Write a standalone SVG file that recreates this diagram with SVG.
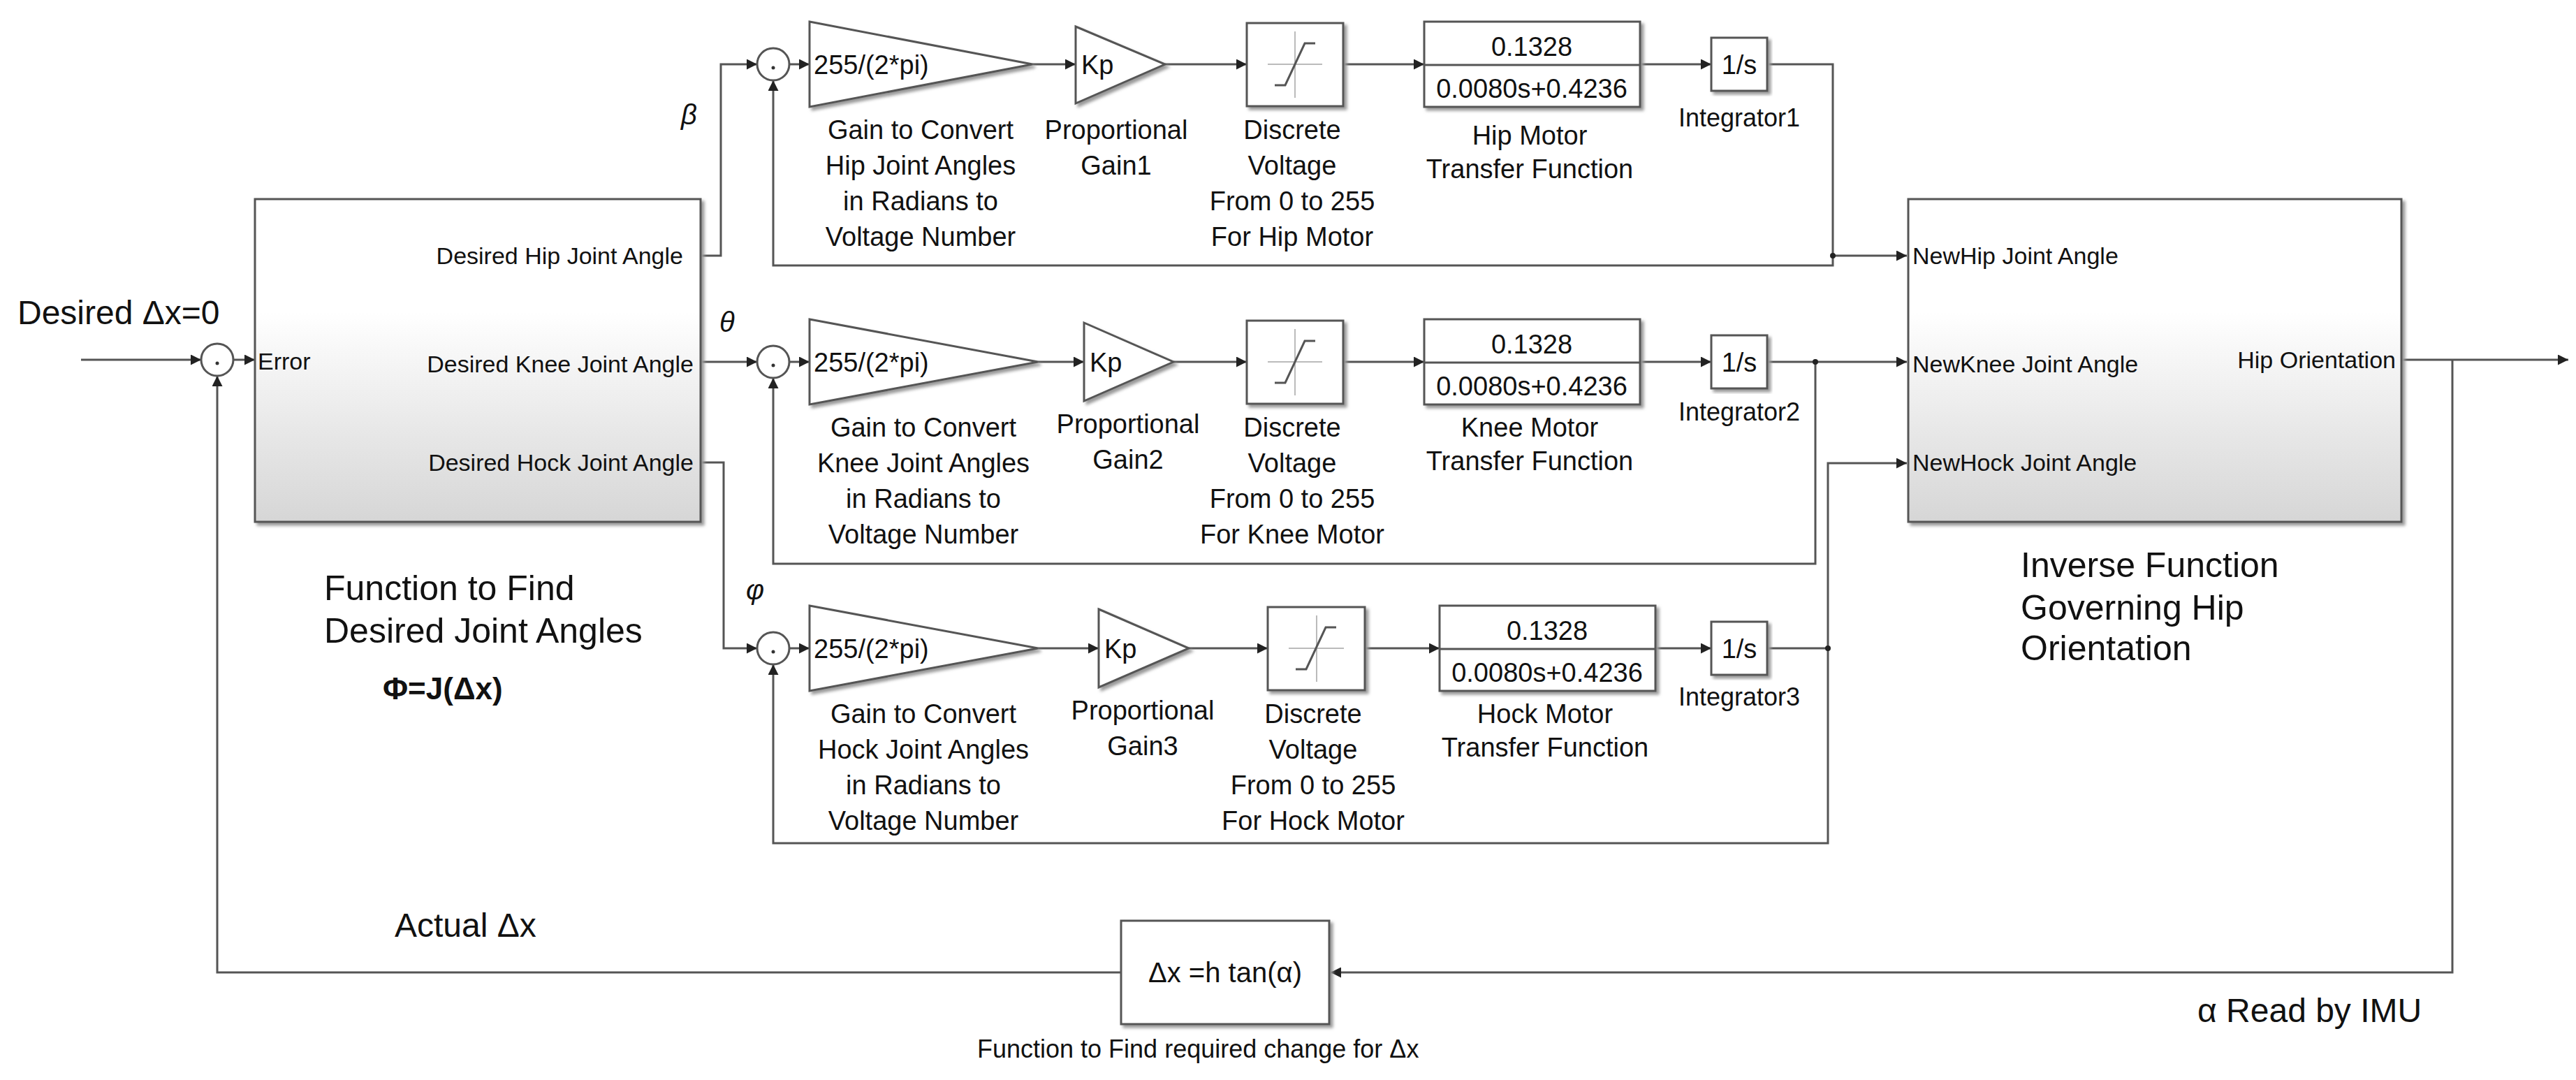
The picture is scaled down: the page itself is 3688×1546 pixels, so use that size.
<svg xmlns="http://www.w3.org/2000/svg" width="3688" height="1546" viewBox="0 0 3688 1546">
<style>
text{font-family:"Liberation Sans",Arial,sans-serif;fill:#111}
.l{font-size:38px;text-anchor:middle}
.p{font-size:34px}
.b{fill:#fff;stroke:#555;stroke-width:3}
.w{fill:none;stroke:#555;stroke-width:3}
.big{font-size:50px}
</style>
<defs>
<marker id="a" viewBox="0 0 10 10" refX="10" refY="5" markerWidth="5" markerHeight="5" orient="auto"><path d="M0,0L10,5L0,10z" fill="#222"/></marker>
<linearGradient id="g" x1="0" y1="0" x2="0" y2="1"><stop offset="0.35" stop-color="#fff"/><stop offset="1" stop-color="#d6d6d6"/></linearGradient>
<filter id="s"><feDropShadow dx="4" dy="4" stdDeviation="2" flood-color="#999"/></filter>
</defs>
<rect width="3688" height="1546" fill="#fff"/>

<g id="connectors" class="w">
<path d="M116,515H288" marker-end="url(#a)"/>
<path d="M334,515H365" marker-end="url(#a)"/>
<path d="M1003,366H1032V92H1084" marker-end="url(#a)"/>
<path d="M1003,518H1084" marker-end="url(#a)"/>
<path d="M1003,662H1036V928H1084" marker-end="url(#a)"/>
<path d="M1130,92H1159" marker-end="url(#a)"/>
<path d="M1130,518H1159" marker-end="url(#a)"/>
<path d="M1130,928H1159" marker-end="url(#a)"/>
<path d="M1478,92H1540" marker-end="url(#a)"/>
<path d="M1486,518H1552" marker-end="url(#a)"/>
<path d="M1486,928H1573" marker-end="url(#a)"/>
<path d="M1668,92H1785" marker-end="url(#a)"/>
<path d="M1680,518H1785" marker-end="url(#a)"/>
<path d="M1702,928H1815" marker-end="url(#a)"/>
<path d="M1923,92H2039" marker-end="url(#a)"/>
<path d="M1923,518H2039" marker-end="url(#a)"/>
<path d="M1954,928H2061" marker-end="url(#a)"/>
<path d="M2348,92H2450" marker-end="url(#a)"/>
<path d="M2348,518H2450" marker-end="url(#a)"/>
<path d="M2370,928H2450" marker-end="url(#a)"/>
<path d="M2530,92H2624V380H1107V541" marker-end="url(#a)" transform="translate(0,-426)" opacity="0"/>
<path d="M2530,92H2624V380H1107V115" marker-end="url(#a)"/>
<path d="M2624,366H2730" marker-end="url(#a)"/>
<path d="M2530,518H2730" marker-end="url(#a)"/>
<path d="M2599,518V807H1107V541" marker-end="url(#a)"/>
<path d="M2530,928H2617V1207H1107V951" marker-end="url(#a)"/>
<path d="M2617,928V663H2730" marker-end="url(#a)"/>
<path d="M3438,515H3677" marker-end="url(#a)"/>
<path d="M3511,515V1392H1905" marker-end="url(#a)"/>
<path d="M1605,1392H311V538" marker-end="url(#a)"/>
</g>
<g fill="#222">
<circle cx="2624" cy="366" r="4"/><circle cx="2599" cy="518" r="4"/><circle cx="2617" cy="928" r="4"/>
</g>

<g id="input"><text x="25" y="464" style="font-size:48px">Desired Δx=0</text></g>
<g id="sum1"><circle cx="311" cy="515" r="23" class="b"/><circle cx="311" cy="520" r="2.5" fill="#333"/></g>
<g id="sum2"><circle cx="1107" cy="518" r="23" class="b"/><circle cx="1107" cy="523" r="2.5" fill="#333"/></g>
<g id="sum3"><circle cx="1107" cy="928" r="23" class="b"/><circle cx="1107" cy="933" r="2.5" fill="#333"/></g>
<g id="sum0"><circle cx="1107" cy="92" r="23" class="b"/><circle cx="1107" cy="97" r="2.5" fill="#333"/></g>

<g id="jfunc">
<rect x="365" y="285" width="638" height="462" fill="url(#g)" stroke="#555" stroke-width="3" filter="url(#s)"/>
<text x="369" y="529" class="p">Error</text>
<text x="978" y="378" class="p" text-anchor="end">Desired Hip Joint Angle</text>
<text x="993" y="533" class="p" text-anchor="end">Desired Knee  Joint Angle</text>
<text x="993" y="674" class="p" text-anchor="end">Desired Hock Joint Angle</text>
<text x="464" y="859" class="big">Function to Find</text>
<text x="464" y="920" class="big">Desired Joint Angles</text>
<text x="548" y="1001" style="font-size:44px;font-weight:bold">Φ=J(Δx)</text>
</g>
<g id="greek" style="font-size:40px;font-style:italic">
<text x="975" y="178">β</text><text x="1030" y="475">θ</text><text x="1068" y="858">φ</text>
</g>

<g id="row1">
<path d="M1159,31L1478,92L1159,153Z" class="b" filter="url(#s)"/>
<text x="1165" y="106" style="font-size:38px">255/(2*pi)</text>
<text class="l" x="1318" y="199">Gain to Convert</text><text class="l" x="1318" y="250">Hip Joint Angles</text><text class="l" x="1318" y="301">in Radians to</text><text class="l" x="1318" y="352">Voltage Number</text>
<path d="M1540,38L1668,92L1540,148Z" class="b" filter="url(#s)"/>
<text x="1548" y="106" style="font-size:38px">Kp</text>
<text class="l" x="1598" y="199">Proportional</text><text class="l" x="1598" y="250">Gain1</text>
<rect x="1785" y="33" width="138" height="119" class="b" filter="url(#s)"/>
<path d="M1815,92H1893M1854,45V140" stroke="#bbb" stroke-width="2"/><path d="M1825,122H1840L1868,62H1883" class="w"/>
<text class="l" x="1850" y="199">Discrete</text><text class="l" x="1850" y="250">Voltage</text><text class="l" x="1850" y="301">From 0 to 255</text><text class="l" x="1850" y="352">For Hip Motor</text>
<rect x="2039" y="31" width="309" height="122" class="b" filter="url(#s)"/>
<path d="M2039,93H2348" class="w"/>
<text class="l" x="2193" y="80">0.1328</text><text class="l" x="2193" y="140">0.0080s+0.4236</text>
<text class="l" x="2190" y="207">Hip Motor</text><text class="l" x="2190" y="255">Transfer Function</text>
<rect x="2450" y="54" width="80" height="76" class="b" filter="url(#s)"/>
<text class="l" x="2490" y="106">1/s</text>
<text class="l" x="2490" y="181" style="font-size:36px">Integrator1</text>
</g>

<g id="row2">
<path d="M1159,457L1486,518L1159,579Z" class="b" filter="url(#s)"/>
<text x="1165" y="532" style="font-size:38px">255/(2*pi)</text>
<text class="l" x="1322" y="625">Gain to Convert</text><text class="l" x="1322" y="676">Knee Joint Angles</text><text class="l" x="1322" y="727">in Radians to</text><text class="l" x="1322" y="778">Voltage Number</text>
<path d="M1552,462L1680,518L1552,574Z" class="b" filter="url(#s)"/>
<text x="1560" y="532" style="font-size:38px">Kp</text>
<text class="l" x="1615" y="620">Proportional</text><text class="l" x="1615" y="671">Gain2</text>
<rect x="1785" y="459" width="138" height="119" class="b" filter="url(#s)"/>
<path d="M1815,518H1893M1854,471V566" stroke="#bbb" stroke-width="2"/><path d="M1825,548H1840L1868,488H1883" class="w"/>
<text class="l" x="1850" y="625">Discrete</text><text class="l" x="1850" y="676">Voltage</text><text class="l" x="1850" y="727">From 0 to 255</text><text class="l" x="1850" y="778">For Knee Motor</text>
<rect x="2039" y="457" width="309" height="122" class="b" filter="url(#s)"/>
<path d="M2039,519H2348" class="w"/>
<text class="l" x="2193" y="506">0.1328</text><text class="l" x="2193" y="566">0.0080s+0.4236</text>
<text class="l" x="2190" y="625">Knee Motor</text><text class="l" x="2190" y="673">Transfer Function</text>
<rect x="2450" y="480" width="80" height="76" class="b" filter="url(#s)"/>
<text class="l" x="2490" y="532">1/s</text>
<text class="l" x="2490" y="602" style="font-size:36px">Integrator2</text>
</g>

<g id="row3">
<path d="M1159,867L1486,928L1159,989Z" class="b" filter="url(#s)"/>
<text x="1165" y="942" style="font-size:38px">255/(2*pi)</text>
<text class="l" x="1322" y="1035">Gain to Convert</text><text class="l" x="1322" y="1086">Hock Joint Angles</text><text class="l" x="1322" y="1137">in Radians to</text><text class="l" x="1322" y="1188">Voltage Number</text>
<path d="M1573,872L1702,928L1573,984Z" class="b" filter="url(#s)"/>
<text x="1581" y="942" style="font-size:38px">Kp</text>
<text class="l" x="1636" y="1030">Proportional</text><text class="l" x="1636" y="1081">Gain3</text>
<rect x="1815" y="869" width="139" height="119" class="b" filter="url(#s)"/>
<path d="M1845,928H1924M1885,881V976" stroke="#bbb" stroke-width="2"/><path d="M1855,958H1870L1898,898H1913" class="w"/>
<text class="l" x="1880" y="1035">Discrete</text><text class="l" x="1880" y="1086">Voltage</text><text class="l" x="1880" y="1137">From 0 to 255</text><text class="l" x="1880" y="1188">For Hock Motor</text>
<rect x="2061" y="867" width="309" height="122" class="b" filter="url(#s)"/>
<path d="M2061,929H2370" class="w"/>
<text class="l" x="2215" y="916">0.1328</text><text class="l" x="2215" y="976">0.0080s+0.4236</text>
<text class="l" x="2212" y="1035">Hock Motor</text><text class="l" x="2212" y="1083">Transfer Function</text>
<rect x="2450" y="890" width="80" height="76" class="b" filter="url(#s)"/>
<text class="l" x="2490" y="942">1/s</text>
<text class="l" x="2490" y="1010" style="font-size:36px">Integrator3</text>
</g>

<g id="inverse">
<rect x="2732" y="285" width="706" height="462" fill="url(#g)" stroke="#555" stroke-width="3" filter="url(#s)"/>
<text x="2738" y="378" class="p">NewHip Joint Angle</text>
<text x="2738" y="533" class="p">NewKnee Joint Angle</text>
<text x="2738" y="674" class="p">NewHock Joint Angle</text>
<text x="3430" y="527" class="p" text-anchor="end">Hip Orientation</text>
<text x="2893" y="826" class="big">Inverse Function</text>
<text x="2893" y="887" class="big">Governing Hip</text>
<text x="2893" y="945" class="big">Orientation</text>
</g>

<g id="dxblock">
<rect x="1605" y="1318" width="298" height="148" class="b" filter="url(#s)"/>
<text x="1754" y="1406" style="font-size:40px;text-anchor:middle">Δx =h tan(α)</text>
<text x="1399" y="1514" style="font-size:36px">Function to Find required change for Δx</text>
</g>
<g id="labels">
<text x="565" y="1341" style="font-size:48px">Actual Δx</text>
<text x="3146" y="1463" style="font-size:48px">α Read by IMU</text>
</g>
</svg>
